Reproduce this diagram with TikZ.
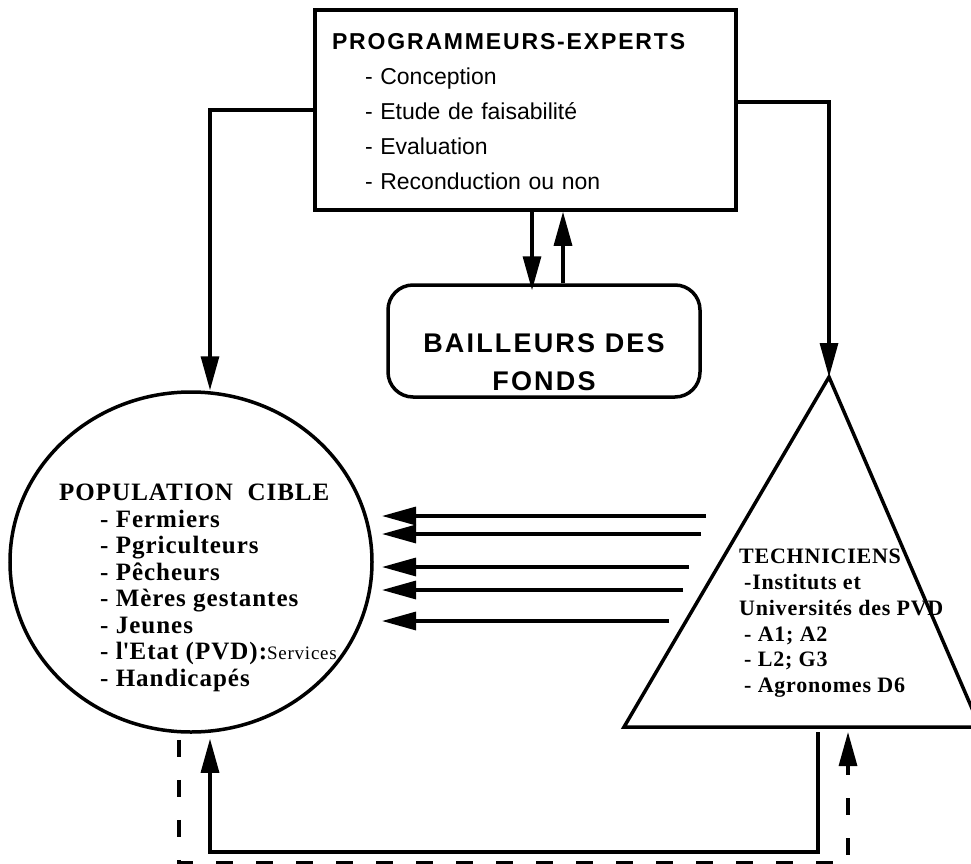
\documentclass[tikz,border=0pt]{standalone}
\usepackage{fontspec}
\setmainfont{Liberation Serif}
\setsansfont{Liberation Sans}
\usetikzlibrary{arrows.meta,shapes.geometric}

\begin{document}
\begin{tikzpicture}[x=1pt,y=-1pt,
    shapeline/.style={line width=3.5pt},
    link/.style={line width=3.2pt,-{Triangle[length=34pt,width=18pt]}},
    dashlink/.style={link,dash pattern=on 17pt off 23pt}]
\useasboundingbox (0,0) rectangle (971,864);

\node[shapeline,draw,minimum width=421pt,minimum height=200pt] (prog) at (525.5,110) {};
\node[text width=387pt,inner xsep=17pt,minimum height=200pt,align=left,
      font=\sffamily\fontsize{23}{35}\selectfont] (progtxt) at (525.5,112)
  {{\bfseries\addfontfeature{LetterSpace=8}PROGRAMMEURS-EXPERTS}\\
   \hspace*{33pt}- Conception\\
   \hspace*{33pt}- Etude de faisabilité\\
   \hspace*{33pt}- Evaluation\\
   \hspace*{33pt}- Reconduction ou non};

\node[shapeline,draw,rounded corners=25pt,minimum width=312pt,minimum height=112pt] (funds) at (544,341) {};
\node[inner sep=0pt,align=center,font=\sffamily\bfseries\fontsize{27}{38}\selectfont\addfontfeature{LetterSpace=8}] (fundstxt) at (544,362)
  {BAILLEURS DES\\FONDS};

\node[shapeline,draw,ellipse,minimum width=362pt,minimum height=340pt,inner sep=0pt] (pop) at (191,562) {};
\node[anchor=north west,inner sep=0pt,align=left,font=\bfseries\fontsize{25}{26.5}\selectfont\addfontfeature{LetterSpace=4}] (poptxt) at (59,484)
  {POPULATION\ \ CIBLE\\
   \hspace*{41pt}- Fermiers\\
   \hspace*{41pt}- Pgriculteurs\\
   \hspace*{41pt}- Pêcheurs\\
   \hspace*{41pt}- Mères gestantes\\
   \hspace*{41pt}- Jeunes\\
   \hspace*{41pt}- l\textquotesingle Etat (PVD):{\mdseries\fontsize{19}{26.5}\selectfont\addfontfeature{LetterSpace=4}Services}\\
   \hspace*{41pt}- Handicapés};

% triangle des techniciens
\coordinate (apex) at (829,377);
\coordinate (baseL) at (624,727);
\coordinate (baseR) at (980,727);
\draw[shapeline] (apex) -- (baseL) -- (baseR) -- cycle;
\node[anchor=north west,inner sep=0pt,align=left,font=\bfseries\fontsize{22}{25.8}\selectfont\addfontfeature{LetterSpace=3.5}] (techtxt) at (739,549)
  {TECHNICIENS\\
   \hspace*{5pt}-Instituts et\\
   Universités des PVD\\
   \hspace*{5pt}- A1; A2\\
   \hspace*{5pt}- L2; G3\\
   \hspace*{5pt}- Agronomes D6};

\draw[link] (prog.west) -| ([xshift=19pt]pop.north);
\draw[link] ([yshift=8pt]prog.east) -| (apex);
\draw[link] ([xshift=6.5pt]prog.south) -- ([xshift=-12pt,yshift=-7pt]funds.north);
\draw[link] ([xshift=19pt]funds.north) -- ([xshift=37.5pt]prog.south);

\foreach \y/\x [count=\i] in {516/706,534/701,567/689,590/683,621/669}{
  \coordinate (tail\i) at (\x,\y);
  \coordinate (head\i) at (382,\y);
  \draw[link] (tail\i) -- (head\i);
}

\draw[link] ([xshift=194pt,yshift=-5pt]baseL) -- ++(0,120) -| ([xshift=19pt,yshift=-5pt]pop.south);
\draw[dashlink] ([xshift=-12pt,yshift=-6pt]pop.south) -- ++(0,123) -| ([xshift=224pt,yshift=-5pt]baseL);
\end{tikzpicture}
\end{document}
